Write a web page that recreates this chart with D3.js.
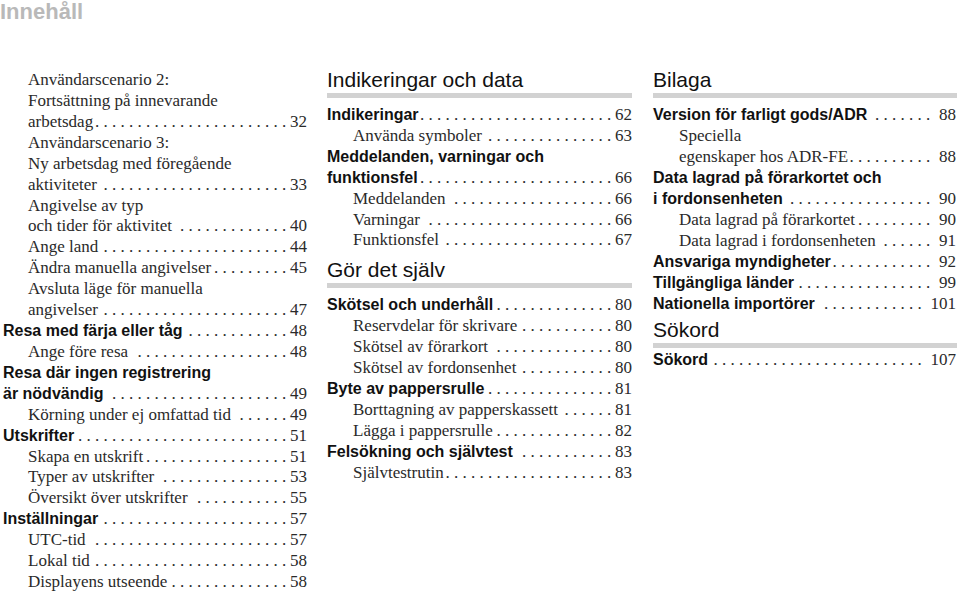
<!DOCTYPE html>
<html><head><meta charset="utf-8">
<script src="https://cdn.jsdelivr.net/npm/d3@7/dist/d3.min.js"></script>
<style>body{margin:0;background:#fff}svg{display:block}</style>
</head><body><svg id="c" width="960" height="595"></svg>
<script>
const pageTitle = "Innehåll";

const col1Entries = [
  [["Användarscenario 2:", "Fortsättning på innevarande", "arbetsdag"], "32", 2],
  [["Användarscenario 3:", "Ny arbetsdag med föregående", "aktiviteter"], "33", 2],
  [["Angivelse av typ", "och tider för aktivitet"], "40", 2],
  [["Ange land"], "44", 2],
  [["Ändra manuella angivelser"], "45", 2],
  [["Avsluta läge för manuella", "angivelser"], "47", 2],
  [["Resa med färja eller tåg"], "48", 1],
  [["Ange före resa"], "48", 2],
  [["Resa där ingen registrering", "är nödvändig"], "49", 1],
  [["Körning under ej omfattad tid"], "49", 2],
  [["Utskrifter"], "51", 1],
  [["Skapa en utskrift"], "51", 2],
  [["Typer av utskrifter"], "53", 2],
  [["Översikt över utskrifter"], "55", 2],
  [["Inställningar"], "57", 1],
  [["UTC-tid"], "57", 2],
  [["Lokal tid"], "58", 2],
  [["Displayens utseende"], "58", 2]
];

const col2Heading1 = "Indikeringar och data";
const col2Entries1 = [
  [["Indikeringar"], "62", 1],
  [["Använda symboler"], "63", 2],
  [["Meddelanden, varningar och", "funktionsfel"], "66", 1],
  [["Meddelanden"], "66", 2],
  [["Varningar"], "66", 2],
  [["Funktionsfel"], "67", 2]
];
const col2Heading2 = "Gör det själv";
const col2Entries2 = [
  [["Skötsel och underhåll"], "80", 1],
  [["Reservdelar för skrivare"], "80", 2],
  [["Skötsel av förarkort"], "80", 2],
  [["Skötsel av fordonsenhet"], "80", 2],
  [["Byte av pappersrulle"], "81", 1],
  [["Borttagning av papperskassett"], "81", 2],
  [["Lägga i pappersrulle"], "82", 2],
  [["Felsökning och självtest"], "83", 1],
  [["Självtestrutin"], "83", 2]
];

const col3Heading1 = "Bilaga";
const col3Entries1 = [
  [["Version för farligt gods/ADR"], "88", 1],
  [["Speciella", "egenskaper hos ADR-FE"], "88", 2],
  [["Data lagrad på förarkortet och", "i fordonsenheten"], "90", 1],
  [["Data lagrad på förarkortet"], "90", 2],
  [["Data lagrad i fordonsenheten"], "91", 2],
  [["Ansvariga myndigheter"], "92", 1],
  [["Tillgängliga länder"], "99", 1],
  [["Nationella importörer"], "101", 1]
];
const col3Heading2 = "Sökord";
const col3Entries2 = [
  [["Sökord"], "107", 1]
];

const svg = d3.select("#c");
const SERIF = "'Liberation Serif','Times New Roman',serif";
const SANS = "'Liberation Sans',Arial,sans-serif";
const DOT_STEP = 8.5;

svg.append("text").attr("x", 0).attr("y", 19)
  .attr("font-family", SANS).attr("font-weight", "bold").attr("font-size", 22)
  .attr("fill", "#b9b9b9").text(pageTitle);

function drawHeading(text, x, right, baseline) {
  svg.append("text").attr("x", x).attr("y", baseline)
    .attr("font-family", SANS).attr("font-size", 21).attr("fill", "#111").text(text);
  svg.append("rect").attr("x", x).attr("y", baseline + 6).attr("width", right - x).attr("height", 5)
    .attr("fill", "#d2d2d2");
}

function drawEntries(entries, o) {
  const y = d3.scaleLinear().domain([0, 1]).range([o.y0, o.y0 + o.step]);
  let row = 0;
  entries.forEach(([lines, page, level]) => {
    lines.forEach((line, i) => {
      const yy = y(row);
      const x = level === 1 ? o.x1 : o.x2;
      const t = svg.append("text").attr("x", x).attr("y", yy).text(line);
      if (level === 1) t.attr("font-family", SANS).attr("font-weight", "bold").attr("font-size", 16).attr("fill", "#111");
      else t.attr("font-family", SERIF).attr("font-size", 17).attr("fill", "#2a2a2a");
      if (i === lines.length - 1) {
        const end = x + t.node().getComputedTextLength();
        const num = svg.append("text").attr("x", o.right).attr("y", yy).attr("text-anchor", "end")
          .attr("font-family", SERIF).attr("font-size", 17).attr("fill", "#2a2a2a").text(page);
        const numStart = o.right - num.node().getComputedTextLength();
        let last = o.dotEnd;
        while (last > numStart - o.gap) last -= DOT_STEP;
        const xs = [];
        for (let dx = last; dx > end + 3; dx -= DOT_STEP) xs.push(dx);
        svg.selectAll(null).data(xs).enter().append("text")
          .attr("x", d => d).attr("y", yy).attr("text-anchor", "middle")
          .attr("font-family", SERIF).attr("font-size", 17).attr("fill", "#2a2a2a").text(".");
      }
      row++;
    });
  });
  return y(row - 1);
}

drawEntries(col1Entries, {x1: 3, x2: 28, right: 307, dotEnd: 284, gap: 5, y0: 85, step: 20.92});

drawHeading(col2Heading1, 327, 632, 87);
drawEntries(col2Entries1, {x1: 327, x2: 353, right: 632, dotEnd: 609, gap: 4, y0: 120, step: 20.9});
drawHeading(col2Heading2, 327, 632, 277);
drawEntries(col2Entries2, {x1: 327, x2: 353, right: 632, dotEnd: 609, gap: 4, y0: 310, step: 21.05});

drawHeading(col3Heading1, 653, 957, 87);
drawEntries(col3Entries1, {x1: 653, x2: 679, right: 956, dotEnd: 928, gap: 8, y0: 120, step: 21.0});
drawHeading(col3Heading2, 653, 957, 337);
drawEntries(col3Entries2, {x1: 653, x2: 679, right: 956, dotEnd: 928, gap: 8, y0: 365, step: 21.0});
</script></body></html>
